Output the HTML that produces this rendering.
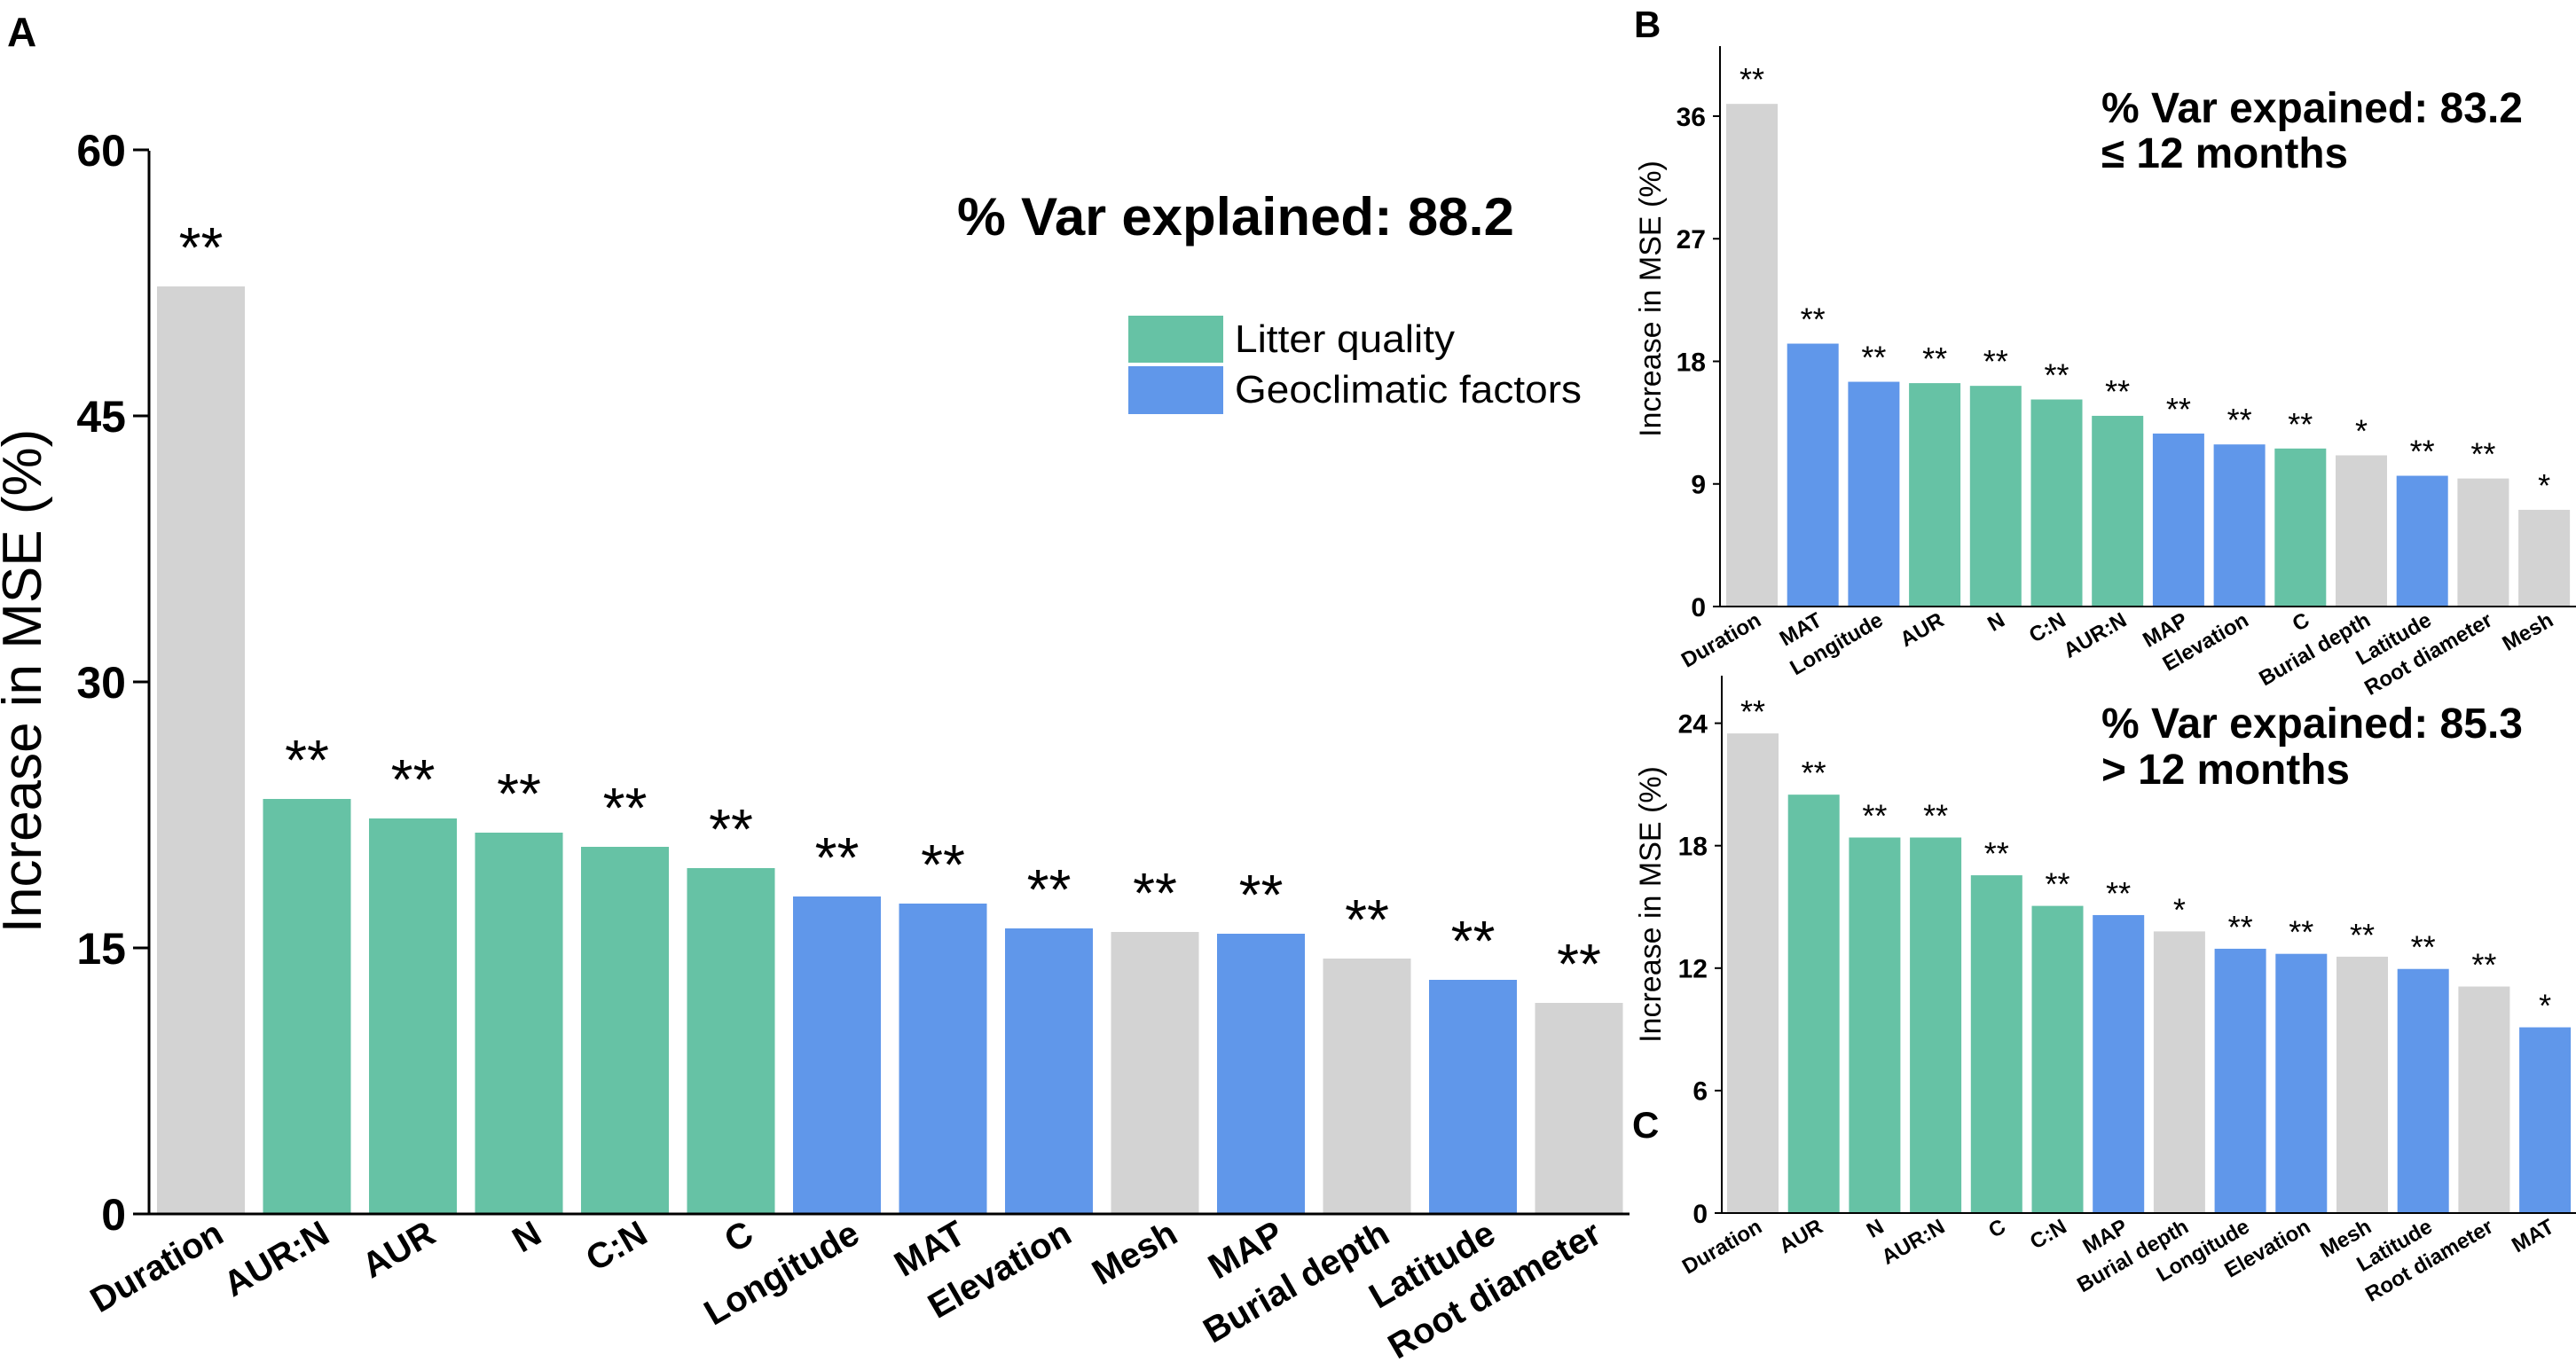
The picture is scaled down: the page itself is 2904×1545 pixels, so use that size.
<!DOCTYPE html>
<html><head><meta charset="utf-8"><style>
html,body{margin:0;padding:0;background:#fff;}
svg{display:block;font-family:"Liberation Sans",sans-serif;}
</style></head><body>
<svg id="fig" width="2904" height="1545" viewBox="0 0 2904 1545">
<text x="8" y="52" font-size="46" font-weight="bold">A</text>
<text x="1842" y="42" font-size="42" font-weight="bold">B</text>
<text x="1840" y="1283" font-size="42" font-weight="bold">C</text>
<text x="1079" y="265" font-size="60" font-weight="bold" textLength="628" lengthAdjust="spacingAndGlyphs">% Var explained: 88.2</text>
<rect x="1272" y="356" width="107" height="53" fill="#66c2a5"/>
<rect x="1272" y="413" width="107" height="54" fill="#6097ea"/>
<text x="1392" y="397" font-size="44" textLength="248" lengthAdjust="spacingAndGlyphs">Litter quality</text>
<text x="1392" y="454" font-size="44" textLength="391" lengthAdjust="spacingAndGlyphs">Geoclimatic factors</text>
<text x="2369" y="138" font-size="48" font-weight="bold" textLength="475" lengthAdjust="spacingAndGlyphs">% Var expained: 83.2</text>
<text x="2369" y="189" font-size="48" font-weight="bold" textLength="278" lengthAdjust="spacingAndGlyphs">≤ 12 months</text>
<text x="2369" y="832" font-size="48" font-weight="bold" textLength="475" lengthAdjust="spacingAndGlyphs">% Var expained: 85.3</text>
<text x="2369" y="884" font-size="48" font-weight="bold" textLength="280" lengthAdjust="spacingAndGlyphs">&gt; 12 months</text>
</svg>
<script>
const catsA=["Duration","AUR:N","AUR","N","C:N","C","Longitude","MAT","Elevation","Mesh","MAP","Burial depth","Latitude","Root diameter"];
const valsA=[52.3,23.4,22.3,21.5,20.7,19.5,17.9,17.5,16.1,15.9,15.8,14.4,13.2,11.9];
const groupA=["g","l","l","l","l","l","c","c","c","g","c","g","c","g"];
const sigA=["**","**","**","**","**","**","**","**","**","**","**","**","**","**"];
const ticksA=[0,15,30,45,60];

const catsB=["Duration","MAT","Longitude","AUR","N","C:N","AUR:N","MAP","Elevation","C","Burial depth","Latitude","Root diameter","Mesh"];
const valsB=[36.9,19.3,16.5,16.4,16.2,15.2,14.0,12.7,11.9,11.6,11.1,9.6,9.4,7.1];
const groupB=["g","c","c","l","l","l","l","c","c","l","g","c","g","g"];
const sigB=["**","**","**","**","**","**","**","**","**","**","*","**","**","*"];
const ticksB=[0,9,18,27,36];

const catsC=["Duration","AUR","N","AUR:N","C","C:N","MAP","Burial depth","Longitude","Elevation","Mesh","Latitude","Root diameter","MAT"];
const valsC=[23.5,20.5,18.4,18.4,16.55,15.05,14.6,13.8,12.95,12.7,12.56,11.96,11.1,9.1];
const groupC=["g","l","l","l","l","l","c","g","c","c","g","c","g","c"];
const sigC=["**","**","**","**","**","**","**","*","**","**","**","**","**","*"];
const ticksC=[0,6,12,18,24];

const NS="http://www.w3.org/2000/svg";
const svg=document.getElementById("fig");
const colors={g:"#d3d3d3",l:"#66c2a5",c:"#6097ea"};
function mk(tag,attrs,text){const e=document.createElementNS(NS,tag);for(const k in attrs)e.setAttribute(k,attrs[k]);if(text!==undefined)e.textContent=text;svg.appendChild(e);return e;}

function panel(p,cats,vals,groups,sigs,ticks,cfg){
  const y=v=>cfg.y0-(v-cfg.vmin)*cfg.ppu;
  const x=i=>cfg.bx0+i*cfg.pitch;
  cats.forEach((c,i)=>{
    const r=mk("rect",{x:x(i),y:y(vals[i]),width:cfg.bw,height:cfg.y0-y(vals[i]),fill:colors[groups[i]]});
    
    
    const s=mk("text",{x:x(i)+cfg.bw/2,y:y(vals[i])-cfg.sigOff,"font-size":cfg.sigFs,"text-anchor":"middle"},sigs[i]);
    
    
    const cx=x(i)+cfg.bw/2+cfg.lx, cy=cfg.y0+cfg.ly;
    const t=mk("text",{x:cx,y:cy,"font-size":cfg.lfs,"font-weight":"bold","text-anchor":"end",transform:`rotate(${cfg.rot} ${cx} ${cy})`},c);
    
    
  });
  ticks.forEach(v=>{
    const l=mk("line",{x1:cfg.ax-cfg.tl,x2:cfg.ax,y1:y(v),y2:y(v),stroke:"#000","stroke-width":cfg.sw});
    
    
    const t=mk("text",{x:cfg.ax-cfg.tl-8,y:y(v)+cfg.tfs*0.36,"font-size":cfg.tfs,"font-weight":"bold","text-anchor":"end"},String(v));
    
    
  });
  const ya=mk("line",{x1:cfg.ax,x2:cfg.ax,y1:cfg.ytop,y2:cfg.y0+cfg.sw/2,stroke:"#000","stroke-width":cfg.sw});
  
  
  const xa=mk("line",{x1:cfg.ax,x2:cfg.xend,y1:cfg.y0,y2:cfg.y0,stroke:"#000","stroke-width":cfg.sw});
  
  
  const yt=mk("text",{x:cfg.ytx,y:cfg.yty,"font-size":cfg.ytfs,"text-anchor":"middle",transform:`rotate(-90 ${cfg.ytx} ${cfg.yty})`},"Increase in MSE (%)");
  
  
}

panel("a",catsA,valsA,groupA,sigA,ticksA,{y0:1369,vmin:0,ppu:20,bx0:177,pitch:119.5,bw:99,sigOff:22,sigFs:64,lx:28,ly:30,lfs:40,rot:-30,ax:168,tl:18,sw:3,tfs:50,ytop:170,xend:1837,ytx:46,yty:768,ytfs:62});
panel("b",catsB,valsB,groupB,sigB,ticksB,{y0:684,vmin:0,ppu:138.25/9,bx0:1946,pitch:68.7,bw:58,sigOff:15,sigFs:36,lx:12,ly:20,lfs:24,rot:-30,ax:1939,tl:8,sw:2,tfs:30,ytop:52,xend:2904,ytx:1872,yty:337,ytfs:34});
panel("c",catsC,valsC,groupC,sigC,ticksC,{y0:1368,vmin:0,ppu:138.1/6,bx0:1947,pitch:68.7,bw:58,sigOff:12,sigFs:36,lx:12,ly:20,lfs:24,rot:-30,ax:1941,tl:8,sw:2,tfs:30,ytop:762,xend:2904,ytx:1872,yty:1020,ytfs:34});
</script>
</body></html>
